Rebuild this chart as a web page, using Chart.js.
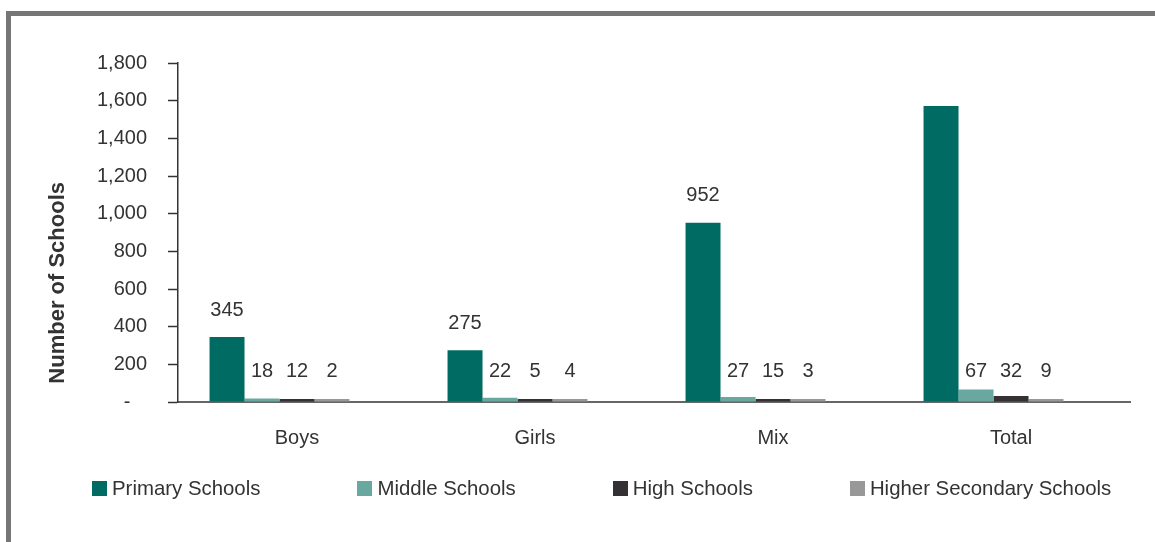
<!DOCTYPE html>
<html>
<head>
<meta charset="utf-8">
<script src="https://cdn.jsdelivr.net/npm/chart.js@4.4.1/dist/chart.umd.min.js"></script>
<style>
    html, body { margin: 0; padding: 0; background: #fff; }
    body { width: 1155px; height: 542px; position: relative; overflow: hidden; font-family: "Liberation Sans", Arial, sans-serif; }
    #frame { position: absolute; left: 6px; top: 11px; width: 1200px; height: 600px; border-top: 5px solid #767676; border-left: 5px solid #767676; }
    #wrap { position: absolute; left: 0; top: 0; width: 1155px; height: 542px; }
    #legend { position: absolute; left: 92px; top: 477px; display: flex; align-items: center; }
    #legend .item { display: flex; align-items: center; margin-right: 97px; font-size: 20.4px; color: #333; white-space: nowrap; }
    #legend .box { width: 15px; height: 15px; margin-right: 5px; }
</style>
</head>
<body>
<div id="frame"></div>
<div id="wrap"><canvas id="schoolsChart" width="1155" height="542"></canvas></div>
<div id="legend"></div>
<script>
    const categories = ['Boys', 'Girls', 'Mix', 'Total'];
    const seriesNames = ['Primary Schools', 'Middle Schools', 'High Schools', 'Higher Secondary Schools'];
    const primarySchools = [345, 275, 952, 1572];
    const middleSchools = [18, 22, 27, 67];
    const highSchools = [12, 5, 15, 32];
    const higherSecondarySchools = [2, 4, 3, 9];
    const seriesColors = ['#006b63', '#69a7a1', '#343033', '#989898'];
    const yTickValues = [0, 200, 400, 600, 800, 1000, 1200, 1400, 1600, 1800];

    // the total of primary schools carries no value label
    const unlabelled = [[0, 3]];

    const fontFamily = '"Liberation Sans", Arial, sans-serif';
    const seriesData = [primarySchools, middleSchools, highSchools, higherSecondarySchools];

    let datasets = seriesData.map(function (values, i) {
        return {
            label: seriesNames[i],
            data: values,
            backgroundColor: seriesColors[i],
            borderWidth: 0,
            barPercentage: 1,
            categoryPercentage: 0.735,
            minBarLength: 3
        };
    });
    // empty fifth slot, keeps the bar groups spaced like the original sheet
    datasets.push({ label: '', data: categories.map(function () { return null; }), barPercentage: 1, categoryPercentage: 0.735 });

    const valueLabels = {
        id: 'valueLabels',
        afterDatasetsDraw(chart) {
            const ctx = chart.ctx;
            const base = chart.scales.y.getPixelForValue(0);
            ctx.save();
            ctx.font = '20px ' + fontFamily;
            ctx.fillStyle = '#333';
            ctx.textAlign = 'center';
            ctx.textBaseline = 'middle';
            for (let d = 0; d < seriesData.length; d++) {
                const meta = chart.getDatasetMeta(d);
                meta.data.forEach(function (bar, i) {
                    if (unlabelled.some(function (u) { return u[0] === d && u[1] === i; })) return;
                    const v = seriesData[d][i];
                    const y = v >= 100 ? bar.y - 27 : base - 31;
                    ctx.fillText(String(v), bar.x, y);
                });
            }
            ctx.restore();
        }
    };

    let schoolsChart = new Chart(document.getElementById('schoolsChart'), {
        type: 'bar',
        data: {
            labels: categories,
            datasets: datasets
        },
        options: {
            responsive: false,
            animation: false,
            layout: { padding: { left: 0, right: 25, top: 63, bottom: 80 } },
            plugins: {
                legend: { display: false },
                tooltip: { enabled: false }
            },
            scales: {
                x: {
                    grid: { drawOnChartArea: false, drawTicks: false },
                    border: { color: '#666', width: 2 },
                    ticks: { color: '#333', font: { family: fontFamily, size: 20 }, padding: 24 },
                    afterFit: function (scale) { scale.height = 60; }
                },
                y: {
                    min: 0,
                    max: 1800,
                    afterBuildTicks: function (scale) {
                        scale.ticks = yTickValues.map(function (v) { return { value: v }; });
                    },
                    grid: { drawOnChartArea: false, drawTicks: true, tickLength: 10, tickColor: '#333', tickWidth: 1.5 },
                    border: { color: '#333', width: 1.5 },
                    ticks: {
                        color: '#333',
                        font: { family: fontFamily, size: 20 },
                        padding: 21,
                        callback: function (v) { return v === 0 ? '-   ' : v.toLocaleString('en-US'); }
                    },
                    title: {
                        display: true,
                        text: '   Number of Schools',
                        align: 'start',
                        color: '#333',
                        font: { family: fontFamily, size: 22, weight: 'bold' },
                        padding: { top: 45, bottom: 0 }
                    },
                    afterFit: function (scale) { scale.width = 178; }
                }
            }
        },
        plugins: [valueLabels]
    });

    const legendEl = document.getElementById('legend');
    seriesNames.forEach(function (name, i) {
        const item = document.createElement('div');
        item.className = 'item';
        const box = document.createElement('span');
        box.className = 'box';
        box.style.background = seriesColors[i];
        item.appendChild(box);
        item.appendChild(document.createTextNode(name));
        legendEl.appendChild(item);
    });
</script>
</body>
</html>
